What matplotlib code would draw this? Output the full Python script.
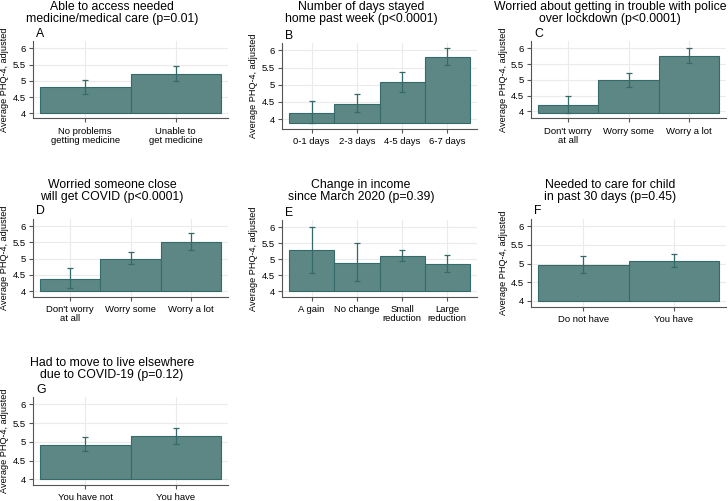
import numpy as np
import matplotlib
matplotlib.use("Agg")
import matplotlib.pyplot as plt

plt.rcParams['font.family'] = ['Liberation Sans', 'DejaVu Sans']

# panel data
titles = [
    "Able to access needed\nmedicine/medical care (p=0.01)",
    "Number of days stayed\nhome past week (p<0.0001)",
    "Worried about getting in trouble with police\nover lockdown (p<0.0001)",
    "Worried someone close\nwill get COVID (p<0.0001)",
    "Change in income\nsince March 2020 (p=0.39)",
    "Needed to care for child\nin past 30 days (p=0.45)",
    "Had to move to live elsewhere\ndue to COVID-19 (p=0.12)",
]
letters = ["A", "B", "C", "D", "E", "F", "G"]

cats_a = ["No problems\ngetting medicine", "Unable to\nget medicine"]
mean_a = [4.80, 5.22]
lo_a = [4.60, 4.98]
hi_a = [5.01, 5.47]

cats_b = ["0-1 days", "2-3 days", "4-5 days", "6-7 days"]
mean_b = [4.19, 4.44, 5.07, 5.80]
lo_b = [3.88, 4.20, 4.78, 5.56]
hi_b = [4.52, 4.72, 5.37, 6.06]

cats_c = ["Don't worry\nat all", "Worry some", "Worry a lot"]
mean_c = [4.20, 4.99, 5.74]
lo_c = [3.94, 4.77, 5.52]
hi_c = [4.50, 5.21, 6.00]

cats_d = ["Don't worry\nat all", "Worry some", "Worry a lot"]
mean_d = [4.39, 5.00, 5.51]
lo_d = [4.09, 4.83, 5.26]
hi_d = [4.71, 5.20, 5.80]

cats_e = ["A gain", "No change", "Small\nreduction", "Large\nreduction"]
mean_e = [5.29, 4.90, 5.10, 4.86]
lo_e = [4.56, 4.32, 4.94, 4.61]
hi_e = [6.02, 5.50, 5.30, 5.12]

cats_f = ["Do not have", "You have"]
mean_f = [4.95, 5.07]
lo_f = [4.74, 4.90]
hi_f = [5.19, 5.26]

cats_g = ["You have not", "You have"]
mean_g = [4.92, 5.15]
lo_g = [4.75, 4.94]
hi_g = [5.12, 5.36]

panels = [
    (cats_a, mean_a, lo_a, hi_a),
    (cats_b, mean_b, lo_b, hi_b),
    (cats_c, mean_c, lo_c, hi_c),
    (cats_d, mean_d, lo_d, hi_d),
    (cats_e, mean_e, lo_e, hi_e),
    (cats_f, mean_f, lo_f, hi_f),
    (cats_g, mean_g, lo_g, hi_g),
]

# layout in pixels: (pixel of y=6, pixel of y=4, bottom spine)
ypix = [
    (48.3, 113.3, 118.3),
    (50.3, 119.2, 128.7),
    (48.3, 111.3, 118.3),
    (226.0, 291.3, 296.7),
    (227.3, 291.3, 296.7),
    (226.0, 301.0, 306.7),
    (404.3, 479.3, 485.0),
]

W, H = 728, 501
FILL = "#5c8784"
EDGE = "#35696a"
AXCOL = "#555555"

fig = plt.figure(figsize=(W / 100, H / 100), dpi=100)


def draw_panel(i, cats, means, lo, hi):
    row, col = divmod(i, 3)
    spine_x = 33 + 249 * col
    width_px = 195
    y6, y4, bot = ypix[i]
    top = y6 - 7
    ppu = (y4 - y6) / 2.0
    ax = fig.add_axes([spine_x / W, 1 - bot / H, width_px / W, (bot - top) / H])

    n = len(cats)
    x = np.arange(n)
    bar_px = 181.0 / n
    gap = 7.0 / bar_px
    # bars start at 4 unless a CI goes lower
    base = min(4.0, min(lo))
    means = np.array(means)
    ax.bar(x, means - base, bottom=base, width=1.0, color=FILL,
           edgecolor=EDGE, linewidth=0.8, zorder=2)
    yerr = [means - np.array(lo), np.array(hi) - means]
    ax.errorbar(x, means, yerr=yerr, fmt='none', ecolor=EDGE,
                elinewidth=0.9, capsize=2.3, capthick=0.9, zorder=3)

    ax.set_xlim(-0.5 - gap, n - 0.5 + gap)
    ax.set_ylim(4 - (bot - y4) / ppu, 6 + 7 / ppu)
    ax.set_yticks([4, 4.5, 5, 5.5, 6])
    ax.set_yticklabels(["4", "4.5", "5", "5.5", "6"])
    ax.set_xticks(x)
    ax.set_xticklabels(cats, linespacing=1.0)
    ax.tick_params(axis='both', labelsize=6.8, length=3, width=0.8,
                   color=AXCOL, pad=2)
    ax.tick_params(axis='x', pad=3)
    ax.grid(True, color="#ebebeb", linewidth=0.8, zorder=0)
    ax.set_axisbelow(True)
    for s in ["top", "right"]:
        ax.spines[s].set_visible(False)
    for s in ["left", "bottom"]:
        ax.spines[s].set_color(AXCOL)
        ax.spines[s].set_linewidth(0.8)

    # title, panel letter and y label
    row_top = 177.8 * row
    fig.text((spine_x + 79) / W, 1 - (row_top + 13) / H, titles[i],
             ha='center', va='center', fontsize=8.8, linespacing=1.02)
    fig.text((spine_x + 3) / W, 1 - (y6 - 14.5) / H, letters[i],
             ha='left', va='center', fontsize=8.8)
    fig.text((spine_x - 28) / W, 1 - ((top + bot) / 2) / H,
             "Average PHQ-4, adjusted", rotation=90, ha='center',
             va='center', fontsize=6.6)


for i, (cats, means, lo, hi) in enumerate(panels):
    draw_panel(i, cats, means, lo, hi)

fig.savefig("out.png", dpi=100)
